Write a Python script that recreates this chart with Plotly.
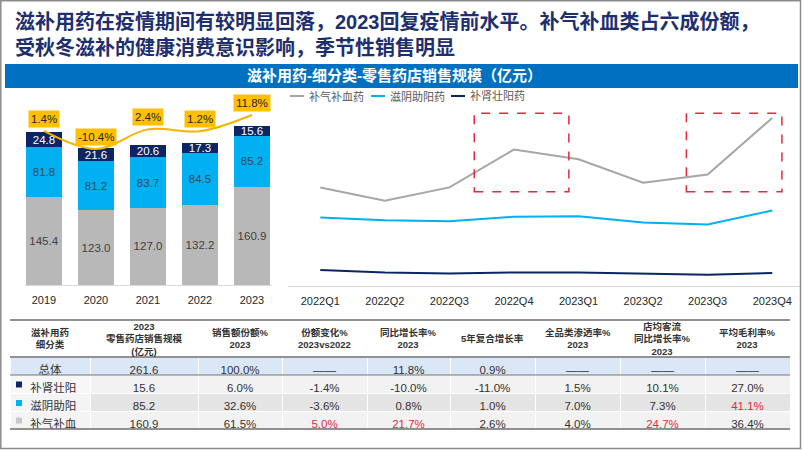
import plotly.graph_objects as go

W, H = 802, 451
def px(x): return x / W
def py(y): return 1 - y / H

FONT = "Liberation Sans, Arial, Noto Sans CJK SC, sans-serif"

# ---------------- data ----------------
years = ["2019", "2020", "2021", "2022", "2023"]
buqi_buxue = [145.4, 123.0, 127.0, 132.2, 160.9]
ziyin_zhuyang = [81.8, 81.2, 83.7, 84.5, 85.2]
bushen_zhuangyang = [24.8, 21.6, 20.6, 17.3, 15.6]
growth = [1.4, -10.4, 2.4, 1.2, 11.8]

quarters = ["2022Q1", "2022Q2", "2022Q3", "2022Q4", "2023Q1", "2023Q2", "2023Q3", "2023Q4"]
q_buqi = [31.1, 26.9, 31.1, 43.1, 40.0, 32.6, 35.2, 53.1]
q_ziyin = [21.6, 20.7, 20.4, 21.8, 22.0, 20.0, 19.4, 23.8]
q_bushen = [5.0, 4.2, 3.9, 4.2, 4.2, 3.9, 3.5, 4.0]

series_names = ["补气补血药", "滋阴助阳药", "补肾壮阳药"]

table_header = ["滋补用药<br>细分类", "2023<br>零售药店销售规模<br>(亿元)", "销售额份额%<br>2023",
                "份额变化%<br>2023vs2022", "同比增长率%<br>2023", "5年复合增长率",
                "全品类渗透率%<br>2023", "店均客流<br>同比增长率%<br>2023", "平均毛利率%<br>2023"]
row_names = ["总体", "补肾壮阳", "滋阴助阳", "补气补血"]
col_scale = ["261.6", "15.6", "85.2", "160.9"]
col_share = ["100.0%", "6.0%", "32.6%", "61.5%"]
col_share_chg = ["——", "-1.4%", "-3.6%", "5.0%"]
col_yoy = ["11.8%", "-10.0%", "0.8%", "21.7%"]
col_cagr = ["0.9%", "-11.0%", "1.0%", "2.6%"]
col_penetr = ["——", "1.5%", "7.0%", "4.0%"]
col_traffic = ["——", "10.1%", "7.3%", "24.7%"]
col_margin = ["——", "27.0%", "41.1%", "36.4%"]

# ---------------- colors ----------------
C_NAVY = "#0b2565"
C_BLUE = "#00b0f0"
C_GRAY = "#b8b8b8"
C_LINEGRAY = "#a6a6a6"
C_GOLD = "#f4b400"
C_TXT = "#262626"
C_RED = "#e8263e"

fig = go.Figure()

# ---------------- left stacked bars ----------------
for vals, col, tcol in [(buqi_buxue, C_GRAY, "#404040"),
                        (ziyin_zhuyang, C_BLUE, "#3a4a5a"),
                        (bushen_zhuangyang, C_NAVY, "white")]:
    fig.add_trace(go.Bar(x=years, y=vals, marker=dict(color=col, line=dict(width=0)),
                         texttemplate="%{y:.1f}", textposition="inside",
                         insidetextanchor="middle", constraintext="none",
                         textfont=dict(size=11.5, color=tcol, family=FONT),
                         xaxis="x", yaxis="y", showlegend=False, hoverinfo="skip"))

fig.add_trace(go.Scatter(x=years, y=growth, mode="lines", line=dict(color=C_GOLD, width=2, shape="spline"),
                         xaxis="x", yaxis="y2", showlegend=False, hoverinfo="skip"))

# ---------------- right lines ----------------
for vals, col, nm in [(q_buqi, C_LINEGRAY, series_names[0]),
                      (q_ziyin, C_BLUE, series_names[1]),
                      (q_bushen, C_NAVY, series_names[2])]:
    fig.add_trace(go.Scatter(x=quarters, y=vals, mode="lines", name=nm,
                             line=dict(color=col, width=2),
                             xaxis="x2", yaxis="y3", showlegend=False, hoverinfo="skip"))

# ---------------- table ----------------
n_rows = len(row_names)
fills = []
row_fill = ["#dae7f7", "#f2f2f2", "#e4e4e4", "#f2f2f2"]
first_fill = ["#dae7f7", "#f7f7f7", "#f4f4f4", "#f4f4f4"]
columns = [[("\u00a0\u00a0" + r if i > 0 else r) for i, r in enumerate(row_names)],
           col_scale, col_share, col_share_chg, col_yoy, col_cagr, col_penetr, col_traffic, col_margin]
for ci in range(len(columns)):
    fills.append(first_fill if ci == 0 else row_fill)
font_colors = []
for ci, col in enumerate(columns):
    cc = []
    for ri in range(n_rows):
        red = (ci == 3 and ri == 3) or (ci == 4 and ri == 3) or (ci == 7 and ri == 3) or (ci == 8 and ri == 2)
        cc.append(C_RED if red else "#333333")
    font_colors.append(cc)

col_edges = [10, 90, 198, 282, 367, 450, 535, 620, 705, 790]
widths = [col_edges[i + 1] - col_edges[i] for i in range(len(col_edges) - 1)]

fig.add_trace(go.Table(
    domain=dict(x=[px(10), px(790)], y=[0, py(320)]),
    columnwidth=widths,
    header=dict(values=[""] * len(columns), height=37, fill=dict(color="white"),
                line=dict(color="white", width=1)),
    cells=dict(values=columns, height=18, fill=dict(color=fills),
               line=dict(color="white", width=1), align="center",
               font=dict(size=11.5, color=font_colors, family=FONT)),
))

# ---------------- layout ----------------
axis_common = dict(showgrid=False, zeroline=False, fixedrange=True)
fig.update_layout(
    width=W, height=H, autosize=False,
    margin=dict(l=0, r=0, t=0, b=0),
    paper_bgcolor="white", plot_bgcolor="rgba(0,0,0,0)",
    barmode="stack", bargap=0.31,
    font=dict(family=FONT, color=C_TXT, size=11),
    xaxis=dict(domain=[px(25), px(272)], range=[-0.365, 4.385], type="category",
               showline=True, linecolor="#d9d9d9", linewidth=1,
               ticks="outside", ticklen=5, tickcolor="rgba(0,0,0,0)",
               tickfont=dict(size=11, color=C_TXT), anchor="y", **axis_common),
    yaxis=dict(domain=[py(285), py(100)], range=[0, 304.8], visible=False, **axis_common),
    yaxis2=dict(domain=[py(285), py(100)], range=[-99.3, 21.6], overlaying="y", visible=False, **axis_common),
    xaxis2=dict(domain=[px(288), px(800)], range=[-0.5, 7.43], type="category",
                showline=True, linecolor="#d9d9d9", linewidth=1,
                ticks="outside", ticklen=5, tickcolor="rgba(0,0,0,0)",
                tickfont=dict(size=11, color=C_TXT), anchor="y3", **axis_common),
    yaxis3=dict(domain=[py(285.7), py(105)], range=[0, 57.18], visible=False, anchor="x2", **axis_common),
)

shapes = []
annotations = []

# frame
shapes.append(dict(type="rect", xref="paper", yref="paper", x0=px(0.8), x1=px(800.5), y0=py(448.5), y1=py(0.8),
                   line=dict(color="#8c8c8c", width=1.5), fillcolor="rgba(0,0,0,0)", layer="above"))
# banner
shapes.append(dict(type="rect", xref="paper", yref="paper", x0=px(5), x1=px(798), y0=py(88), y1=py(64),
                   line=dict(width=0), fillcolor="#0070c0", layer="below"))
annotations.append(dict(xref="paper", yref="paper", x=px(394), y=py(76), xanchor="center", yanchor="middle",
                        text="<b>滋补用药-细分类-零售药店销售规模（亿元）</b>", showarrow=False,
                        font=dict(size=15, color="white", family=FONT)))
# title
annotations.append(dict(xref="paper", yref="paper", x=px(13), y=py(8), xanchor="left", yanchor="top",
                        align="left", showarrow=False,
                        text="<b>滋补用药在疫情期间有较明显回落，2023回复疫情前水平。补气补血类占六成份额，<br>受秋冬滋补的健康消费意识影响，季节性销售明显</b>",
                        font=dict(size=20, color="#1d2f6e", family=FONT)))

# growth labels (category index positions)
for i, g in enumerate(growth):
    annotations.append(dict(xref="x", yref="y2", x=i, y=g, yshift=12, text=f"{g}%", showarrow=False,
                            bgcolor="#ffc000", borderpad=2, xanchor="center", yanchor="middle",
                            font=dict(size=11.5, color=C_TXT, family=FONT)))

# manual legend for right chart
leg = [(290, 304, 307, C_LINEGRAY, series_names[0]),
       (371, 385, 388, C_BLUE, series_names[1]),
       (451, 465, 468, C_NAVY, series_names[2])]
for lx0, lx1, tx, col, nm in leg:
    shapes.append(dict(type="line", xref="paper", yref="paper", x0=px(lx0), x1=px(lx1), y0=py(96), y1=py(96),
                       line=dict(color=col, width=2)))
    annotations.append(dict(xref="paper", yref="paper", x=px(tx), y=py(96), xanchor="left", yanchor="middle",
                            text=nm, showarrow=False, font=dict(size=11, color="#595959", family=FONT)))

# red dashed highlight boxes
for x0, x1 in [(2.385, 3.85), (5.67, 7.15)]:
    shapes.append(dict(type="rect", xref="x2", yref="y3", x0=x0, x1=x1, y0=29.7, y1=54.6,
                       line=dict(color=C_RED, width=1.5, dash="dash"), fillcolor="rgba(0,0,0,0)"))

# table header text
for i, txt in enumerate(table_header):
    cx = (col_edges[i] + col_edges[i + 1]) / 2
    annotations.append(dict(xref="paper", yref="paper", x=px(cx), y=py(338.5), xanchor="center", yanchor="middle",
                            text=f"<b>{txt}</b>", showarrow=False, align="center",
                            font=dict(size=9.5, color="#333333", family=FONT)))
# table horizontal rules
for yy, lw in [(320, 1.5), (357, 1.5), (375, 1.2), (429, 1.5)]:
    shapes.append(dict(type="line", xref="paper", yref="paper", x0=px(10), x1=px(790), y0=py(yy), y1=py(yy),
                       line=dict(color="#6e6e6e", width=lw), layer="above"))
# legend squares in first table column
for yy, col in [(384.5, C_NAVY), (403, C_BLUE), (420.5, "#c8c8c8")]:
    shapes.append(dict(type="rect", xref="paper", yref="paper", x0=px(16), x1=px(22), y0=py(yy + 3), y1=py(yy - 3),
                       line=dict(width=0), fillcolor=col, layer="above"))

fig.update_layout(shapes=shapes, annotations=annotations)
fig.write_html("out.html")
